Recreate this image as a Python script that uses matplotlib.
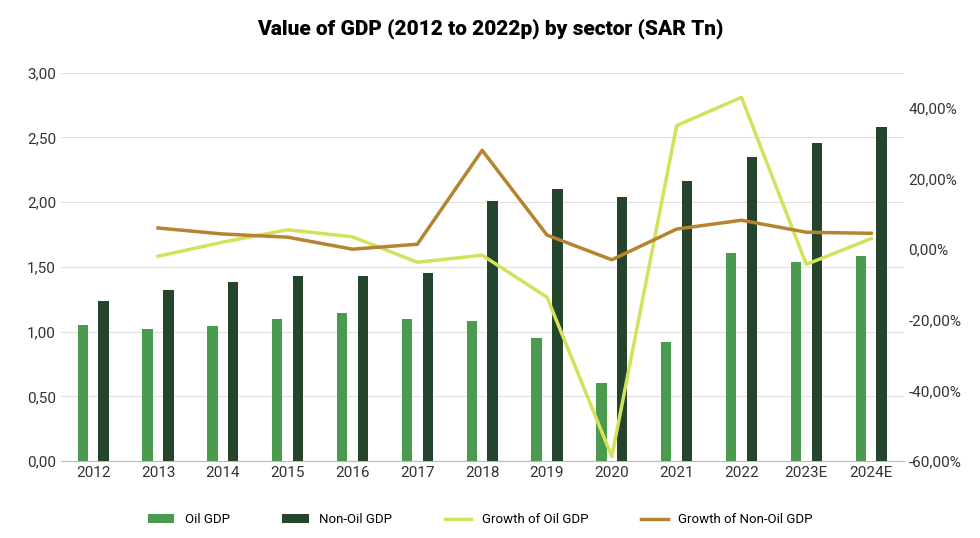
import matplotlib.pyplot as plt
import numpy as np
from matplotlib.ticker import FuncFormatter

years = ["2012", "2013", "2014", "2015", "2016", "2017", "2018", "2019",
         "2020", "2021", "2022", "2023E", "2024E"]
oil_gdp = [1.05, 1.02, 1.04, 1.10, 1.14, 1.10, 1.08, 0.95, 0.60, 0.92, 1.61, 1.54, 1.58]
non_oil_gdp = [1.24, 1.32, 1.38, 1.43, 1.43, 1.45, 2.01, 2.10, 2.04, 2.16, 2.35, 2.46, 2.58]
oil_growth = [None, -2.0, 2.0, 5.5, 3.5, -3.7, -1.7, -13.6, -58.7, 35.0, 43.0, -4.3, 3.0]
non_oil_growth = [None, 6.0, 4.3, 3.4, 0.0, 1.4, 28.0, 4.0, -3.0, 5.7, 8.2, 4.8, 4.5]

plt.rcParams['font.family'] = ['Roboto', 'DejaVu Sans']
fig, ax = plt.subplots(figsize=(9.8, 5.38), dpi=100)
fig.subplots_adjust(left=0.062, right=0.922, top=0.865, bottom=0.143)

x = np.arange(len(years))
w = 0.16
ax.bar(x - 0.16, oil_gdp, w, color="#4a9a50", label="Oil GDP", zorder=3)
ax.bar(x + 0.16, non_oil_gdp, w, color="#24452c", label="Non-Oil GDP", zorder=3)
ax.set_ylim(0, 3.0)
ax.set_yticks(np.arange(0, 3.01, 0.5))
ax.yaxis.set_major_formatter(FuncFormatter(lambda v, p: f"{v:.2f}".replace(".", ",")))
ax.set_xticks(x)
ax.set_xticklabels(years)
ax.set_xlim(-0.5, len(years) - 0.5)
ax.grid(axis="y", color="#e0e0e0", zorder=0)
for s in ["top", "right", "left"]:
    ax.spines[s].set_visible(False)
ax.spines["bottom"].set_color("#bbbbbb")
ax.tick_params(length=0, labelsize=11, colors="#333333")

ax2 = ax.twinx()
xg = x[1:]
ax2.plot(xg, oil_growth[1:], color="#d4e15a", lw=2.5, label="Growth of Oil GDP")
ax2.plot(xg, non_oil_growth[1:], color="#b5842f", lw=2.5, label="Growth of Non-Oil GDP")
ax2.set_ylim(-60, 50)
ax2.set_yticks(np.arange(-60, 41, 20))
ax2.yaxis.set_major_formatter(FuncFormatter(lambda v, p: f"{v:.2f}%".replace(".", ",")))
for s in ["top", "right", "left", "bottom"]:
    ax2.spines[s].set_visible(False)
ax2.tick_params(length=0, labelsize=11, colors="#333333")

h1, l1 = ax.get_legend_handles_labels()
h2, l2 = ax2.get_legend_handles_labels()
fig.legend(h1 + h2, l1 + l2, loc="lower center", ncol=4, frameon=False,
           fontsize=9.5, bbox_to_anchor=(0.49, 0.0), columnspacing=4)
fig.suptitle("Value of GDP (2012 to 2022p) by sector (SAR Tn)", fontsize=15,
             fontweight="heavy", y=0.965)
fig.savefig("out.png")
